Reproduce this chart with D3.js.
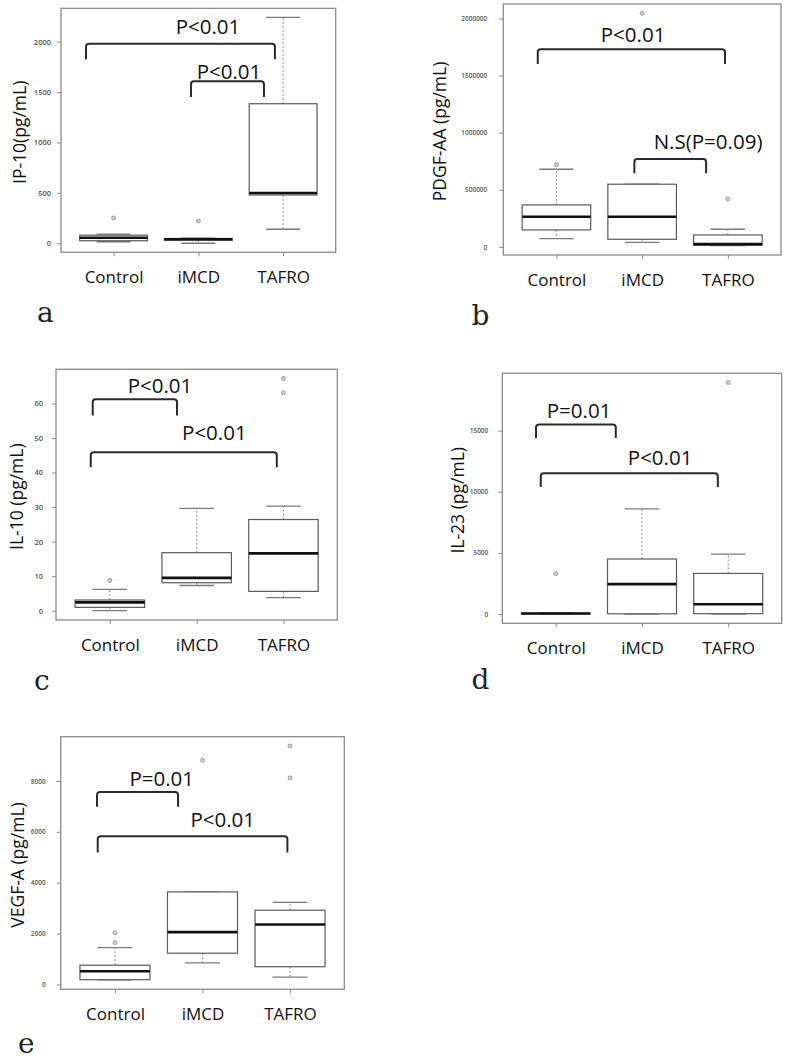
<!DOCTYPE html>
<html>
<head>
<meta charset="utf-8">
<script src="https://cdn.jsdelivr.net/npm/d3@7"></script>
<style>
  html, body { margin: 0; padding: 0; background: #fff; }
  svg { display: block; }
</style>
</head>
<body>
<svg id="chart" width="787" height="1061"></svg>
<script>
// ---------------- DATA ----------------
const categories = ["Control", "iMCD", "TAFRO"];

// each box: [lower whisker, Q1, median, Q3, upper whisker]
const ip10Stats = [[15, 25, 55, 80, 90], [0, 30, 40, 48, 50], [139, 479, 499, 1384, 2241]];
const ip10Outliers = [[250], [221], []];
const ip10Ticks = [0, 500, 1000, 1500, 2000];

const pdgfStats = [[73000, 149000, 265000, 368000, 680000], [41000, 67000, 265000, 549000, 549000], [11000, 15000, 25000, 105000, 155000]];
const pdgfOutliers = [[720000], [2045000], [420000]];
const pdgfTicks = [0, 500000, 1000000, 1500000, 2000000];

const il10Stats = [[0, 0.97, 2.4, 3.1, 6.2], [7.3, 8.1, 9.5, 16.8, 29.6], [3.8, 5.6, 16.6, 26.4, 30.3]];
const il10Outliers = [[8.8], [], [63.1, 67.2]];
const il10Ticks = [0, 10, 20, 30, 40, 50, 60];

const il23Stats = [[0, 20, 40, 60, 100], [0, 20, 2450, 4500, 8600], [0, 30, 800, 3320, 4900]];
const il23Outliers = [[3300], [], [18930]];
const il23Ticks = [0, 5000, 10000, 15000];

const vegfStats = [[180, 190, 520, 760, 1450], [850, 1230, 2060, 3640, 3640], [290, 700, 2360, 2920, 3230]];
const vegfOutliers = [[1650, 2030], [8810], [8120, 9370]];
const vegfTicks = [0, 2000, 4000, 6000, 8000];

// significance brackets: from/to in category units (1..3), top/leg in data units
const ip10Brackets = [
  { text: "P<0.01", from: 0.675, to: 2.903, top: 1980, leg: 1825, tx: 2.113, ty: 2072 },
  { text: "P<0.01", from: 1.913, to: 2.774, top: 1608, leg: 1450, tx: 2.361, ty: 1627 }
];
const pdgfBrackets = [
  { text: "P<0.01", from: 0.782, to: 2.967, top: 1731000, leg: 1602000, tx: 1.894, ty: 1798000 },
  { text: "N.S(P=0.09)", from: 1.909, to: 2.746, top: 770000, leg: 645000, tx: 2.769, ty: 858000 }
];
const il10Brackets = [
  { text: "P<0.01", from: 0.803, to: 1.774, top: 61.2, leg: 56.5, tx: 1.578, ty: 63.1 },
  { text: "P<0.01", from: 0.780, to: 2.923, top: 45.9, leg: 41.5, tx: 2.204, ty: 49.4 }
];
const il23Brackets = [
  { text: "P=0.01", from: 0.771, to: 1.696, top: 15490, leg: 14400, tx: 1.27, ty: 16020 },
  { text: "P<0.01", from: 0.826, to: 2.879, top: 11510, leg: 10380, tx: 2.21, ty: 12170 }
];
const vegfBrackets = [
  { text: "P=0.01", from: 0.795, to: 1.721, top: 7560, leg: 6988, tx: 1.534, ty: 7788 },
  { text: "P<0.01", from: 0.803, to: 2.970, top: 5828, leg: 5188, tx: 2.231, ty: 6200 }
];

// ---------------- LAYOUT ----------------
const panels = [
  { stats: ip10Stats, outliers: ip10Outliers, ticks: ip10Ticks, brackets: ip10Brackets,
    title: "IP-10(pg/mL)", frame: [61, 8.3, 335.7, 252.3], titleX: 19, letter: "a", lx: 37, ly: 322, tickGap: 10, tickFont: 7.5 },
  { stats: pdgfStats, outliers: pdgfOutliers, ticks: pdgfTicks, brackets: pdgfBrackets,
    title: "PDGF-AA (pg/mL)", frame: [503.3, 4, 781, 255], titleX: 439, letter: "b", lx: 471.5, ly: 325, tickGap: 16, tickFont: 6.5 },
  { stats: il10Stats, outliers: il10Outliers, ticks: il10Ticks, brackets: il10Brackets,
    title: "IL-10 (pg/mL)", frame: [56, 369.3, 337.3, 620], titleX: 15.5, letter: "c", lx: 34, ly: 690, tickGap: 13, tickFont: 7.5 },
  { stats: il23Stats, outliers: il23Outliers, ticks: il23Ticks, brackets: il23Brackets,
    title: "IL-23 (pg/mL)", frame: [502.3, 373.3, 781.7, 623.3], titleX: 456.7, letter: "d", lx: 471.5, ly: 689, tickGap: 14, tickFont: 6.5 },
  { stats: vegfStats, outliers: vegfOutliers, ticks: vegfTicks, brackets: vegfBrackets,
    title: "VEGF-A (pg/mL)", frame: [60.7, 736.7, 344.3, 989.3], titleX: 17, letter: "e", lx: 18, ly: 1053, tickGap: 15, tickFont: 6.5 }
];

const svg = d3.select("#chart");
const SANS = "'Open Sans', 'Noto Sans', sans-serif";

panels.forEach(p => {
  const [x0, y0, x1, y1] = p.frame;
  const g = svg.append("g");

  // y domain: data extent with R-style 4% padding
  const allVals = p.stats.flat().concat(p.outliers.flat());
  const [mn, mx] = d3.extent(allVals);
  const pad = (mx - mn) * 0.04;
  const y = d3.scaleLinear().domain([mn - pad, mx + pad]).range([y1, y0]);
  const x = d3.scaleLinear().domain([0.38, 3.62]).range([x0, x1]);
  const boxW = x(1.4) - x(1.0); // half of 0.8 boxwex
  const capW = boxW / 2;

  // frame
  g.append("rect").attr("x", x0).attr("y", y0).attr("width", x1 - x0).attr("height", y1 - y0)
    .attr("fill", "none").attr("stroke", "#8a8a8a").attr("stroke-width", 1.3);

  // y axis
  const ya = g.append("g").attr("transform", `translate(${x0},0)`)
    .call(d3.axisLeft(y).tickValues(p.ticks).tickSize(4).tickPadding(p.tickGap - 4).tickFormat(d3.format("d")));
  ya.select(".domain").remove();
  ya.selectAll(".tick line").attr("stroke", "#8a8a8a").attr("stroke-width", 1);
  ya.selectAll(".tick text").attr("fill", "#555").style("font-family", SANS)
    .style("font-size", p.tickFont + "px").style("font-weight", "600");

  // x axis
  const xa = g.append("g").attr("transform", `translate(0,${y1})`)
    .call(d3.axisBottom(x).tickValues([1, 2, 3]).tickSize(4).tickFormat(d => categories[d - 1]));
  xa.select(".domain").remove();
  xa.selectAll(".tick line").attr("stroke", "#8a8a8a").attr("stroke-width", 1);
  xa.selectAll(".tick text").attr("y", 31).attr("dy", 0).attr("fill", "#111")
    .style("font-family", SANS).style("font-size", "17px");

  // boxes
  p.stats.forEach((s, i) => {
    const cx = x(i + 1);
    const [lw, q1, med, q3, uw] = s;
    const bg = g.append("g");
    bg.append("line").attr("x1", cx).attr("x2", cx).attr("y1", y(q3)).attr("y2", y(uw))
      .attr("stroke", "#8a8a8a").attr("stroke-width", 1).attr("stroke-dasharray", "2,2");
    bg.append("line").attr("x1", cx).attr("x2", cx).attr("y1", y(q1)).attr("y2", y(lw))
      .attr("stroke", "#8a8a8a").attr("stroke-width", 1).attr("stroke-dasharray", "2,2");
    [lw, uw].forEach(v => {
      bg.append("line").attr("x1", cx - capW).attr("x2", cx + capW).attr("y1", y(v)).attr("y2", y(v))
        .attr("stroke", "#7a7a7a").attr("stroke-width", 1.3);
    });
    bg.append("rect").attr("x", cx - boxW).attr("width", 2 * boxW)
      .attr("y", y(q3)).attr("height", Math.max(0.5, y(q1) - y(q3)))
      .attr("fill", "#fff").attr("stroke", "#5a5a5a").attr("stroke-width", 1.2);
    bg.append("line").attr("x1", cx - boxW).attr("x2", cx + boxW).attr("y1", y(med)).attr("y2", y(med))
      .attr("stroke", "#111").attr("stroke-width", 2.6);
    p.outliers[i].forEach(v => {
      bg.append("circle").attr("cx", cx).attr("cy", y(v)).attr("r", 2)
        .attr("fill", "#d0d0d0").attr("stroke", "#999").attr("stroke-width", 0.9);
    });
  });

  // brackets
  p.brackets.forEach(b => {
    const xa1 = x(b.from), xa2 = x(b.to), yt = y(b.top), yl = y(b.leg);
    const r = 3;
    g.append("path")
      .attr("d", `M${xa1},${yl} L${xa1},${yt + r} Q${xa1},${yt} ${xa1 + r},${yt} L${xa2 - r},${yt} Q${xa2},${yt} ${xa2},${yt + r} L${xa2},${yl}`)
      .attr("fill", "none").attr("stroke", "#2a2a2a").attr("stroke-width", 2);
    g.append("text").attr("x", x(b.tx)).attr("y", y(b.ty)).attr("text-anchor", "middle")
      .attr("fill", "#111").style("font-family", SANS).style("font-size", "20.5px").text(b.text);
  });

  // y title
  const cy = (y0 + y1) / 2 + 2;
  g.append("text").attr("transform", `translate(${p.titleX},${cy}) rotate(-90)`)
    .attr("text-anchor", "middle").attr("dominant-baseline", "central")
    .attr("fill", "#111").style("font-family", SANS).style("font-size", "17.5px").text(p.title);

  // panel letter
  g.append("text").attr("x", p.lx).attr("y", p.ly).attr("fill", "#222")
    .style("font-family", "'DejaVu Serif', serif").style("font-size", "28px").text(p.letter);
});
</script>
</body>
</html>
